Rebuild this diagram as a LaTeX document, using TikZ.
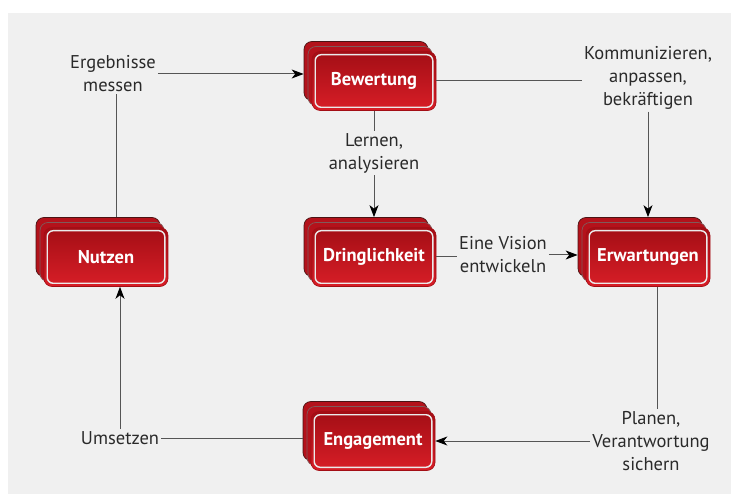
\documentclass[tikz,border=0pt]{standalone}
\usepackage{fontspec}
\setmainfont{PT Sans}
\usetikzlibrary{arrows.meta}

\definecolor{rotdunkel}{HTML}{A30E15}
\definecolor{rothell}{HTML}{D81E27}
\definecolor{rothinten}{HTML}{B4121B}
\definecolor{randdunkel}{HTML}{4A1414}
\definecolor{linie}{HTML}{555555}
\definecolor{grund}{HTML}{F0F0F0}
\definecolor{schrift}{HTML}{2A2A2A}

\tikzset{
  kasten/.style={rounded corners=8pt, minimum width=124pt, minimum height=59pt,
    inner sep=0pt, draw=rotdunkel, line width=0.6pt,
    top color=rotdunkel, bottom color=rothell,
    text=white, font=\bfseries\fontsize{18.5}{22}\selectfont},
  kastenhinten/.style={rounded corners=8pt, minimum width=124pt, minimum height=59pt,
    inner sep=0pt, draw=randdunkel, line width=0.7pt, fill=rothinten},
  beschriftung/.style={align=center, text=schrift, inner sep=2pt,
    font=\fontsize{18.5}{23}\selectfont},
  verbindung/.style={draw=linie, line width=1pt},
  pfeil/.style={verbindung, -{Stealth[length=12pt, width=9pt, inset=3.5pt, color=black]}},
}

% gestapelter Kasten: (Mitte) Name Text
\def\stapel(#1)#2#3{%
  \node[kastenhinten] (#2h) at ([shift={(-8,-10)}]#1) {};
  \node[kastenhinten, draw=randdunkel!70] (#2m) at ([shift={(-4,-5)}]#1) {};
  \node[kasten] (#2) at (#1) {#3};
  \draw[white!92!black, line width=1.4pt, rounded corners=6pt]
    ([shift={(3.5,3.5)}]#2.north west) rectangle ([shift={(-3.5,-3.5)}]#2.south east);
}

\begin{document}
\begin{tikzpicture}[x=1pt, y=-1pt]
  %%%%% Rahmen %%%%%
  \useasboundingbox (0,0) rectangle (731,494);
  \fill[grund] (8,13) rectangle (731,494);

  %%%%% Kaesten %%%%%
  \stapel(374,81){bewertung}{Bewertung}
  \stapel(374,257){dringlichkeit}{Dringlichkeit}
  \stapel(648,257){erwartungen}{Erwartungen}
  \stapel(106,257){nutzen}{Nutzen}
  \stapel(373,441){engagement}{Engagement}

  %%%%% Beschriftungen %%%%%
  \node[beschriftung] (ergebnisse) at (113,74) {Ergebnisse\\messen};
  \node[beschriftung] (kommunizieren) at (648,78) {Kommunizieren,\\anpassen,\\bekräftigen};
  \node[beschriftung] (lernen) at (374,153) {Lernen,\\analysieren};
  \node[beschriftung] (vision) at (503,255) {Eine Vision\\entwickeln};
  \node[beschriftung] (planen) at (651,441) {Planen,\\Verantwortung\\sichern};
  \node[beschriftung] (umsetzen) at (120,438) {Umsetzen};

  %%%%% Verbindungen %%%%%
  \draw[pfeil] (ergebnisse.east) -- (ergebnisse.east -| bewertungh.west);
  \draw[verbindung] ([xshift=3pt]ergebnisse.south) -- ([xshift=3pt]ergebnisse.south |- nutzenh.north);

  \draw[verbindung] (bewertung.east) -- (bewertung.east -| kommunizieren.west);
  \draw[pfeil] (kommunizieren.south) -- (kommunizieren.south |- erwartungenh.north);

  \draw[verbindung] (bewertung.south) -- (bewertung.south |- lernen.north);
  \draw[pfeil] (lernen.south) -- (lernen.south |- dringlichkeith.north);

  \draw[verbindung] (dringlichkeit.east) -- (dringlichkeit.east -| vision.west);
  \draw[pfeil] (vision.east) -- (vision.east -| erwartungenh.west);

  \draw[verbindung] ([xshift=9pt]erwartungen.south) -- ([xshift=9pt]erwartungen.south |- planen.north);
  \draw[pfeil] (planen.west) -- (planen.west -| engagement.east);

  \draw[verbindung] (umsetzen.east) -- (umsetzen.east -| engagementh.west);
  \draw[pfeil] (umsetzen.north) -- (umsetzen.north |- nutzen.south);
\end{tikzpicture}
\end{document}
